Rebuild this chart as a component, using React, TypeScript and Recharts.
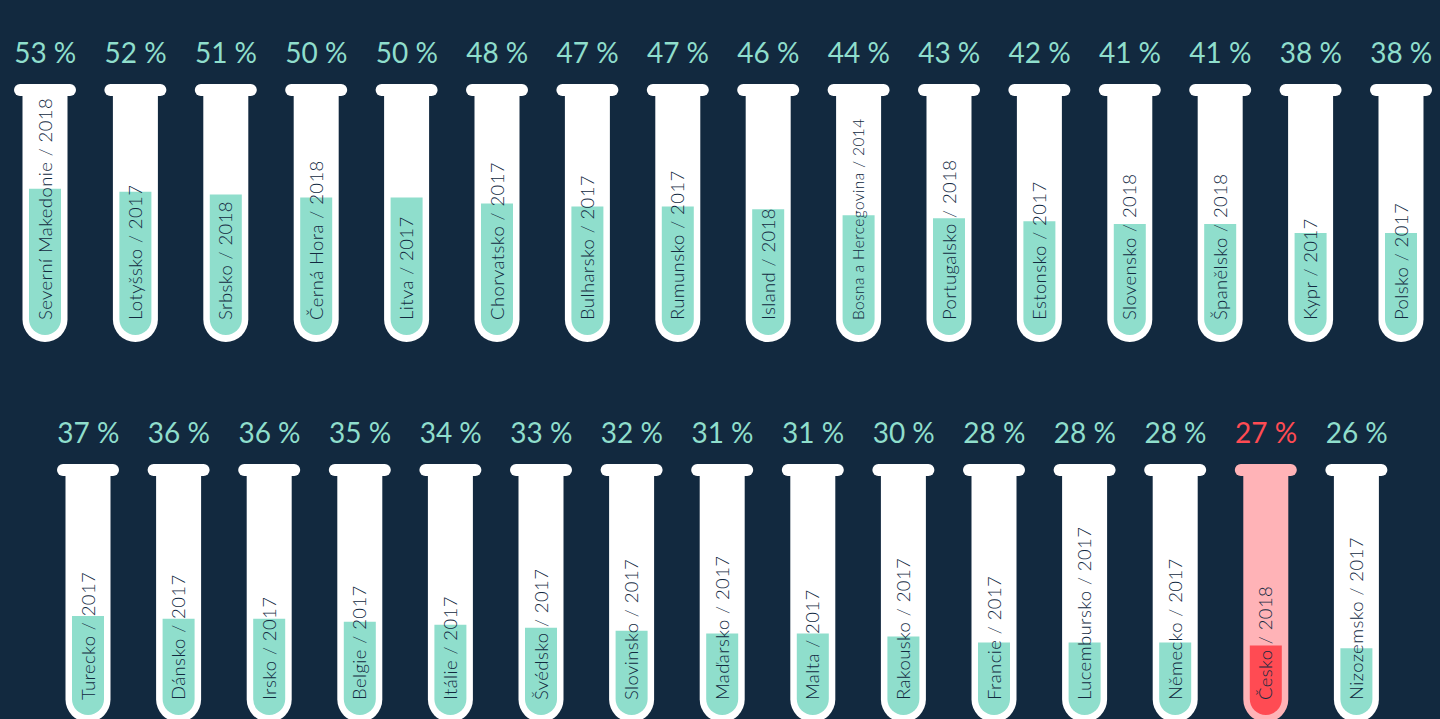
import React from 'react';
import { BarChart, Bar, XAxis, YAxis, LabelList } from 'recharts';

// horní řada zkumavek
const topCountries = [
    'Severní Makedonie', 'Lotyšsko', 'Srbsko', 'Černá Hora', 'Litva', 'Chorvatsko', 'Bulharsko', 'Rumunsko',
    'Island', 'Bosna a Hercegovina', 'Portugalsko', 'Estonsko', 'Slovensko', 'Španělsko', 'Kypr', 'Polsko',
];
const topYears = [2018, 2017, 2018, 2018, 2017, 2017, 2017, 2017, 2018, 2014, 2018, 2017, 2018, 2018, 2017, 2017];
const topValues = [53, 52, 51, 50, 50, 48, 47, 47, 46, 44, 43, 42, 41, 41, 38, 38];

// spodní řada
const bottomCountries = [
    'Turecko', 'Dánsko', 'Irsko', 'Belgie', 'Itálie', 'Švédsko', 'Slovinsko', 'Maďarsko',
    'Malta', 'Rakousko', 'Francie', 'Lucembursko', 'Německo', 'Česko', 'Nizozemsko',
];
const bottomYears = [2017, 2017, 2017, 2017, 2017, 2017, 2017, 2017, 2017, 2017, 2017, 2017, 2017, 2018, 2017];
const bottomValues = [37, 36, 36, 35, 34, 33, 32, 31, 31, 30, 28, 28, 28, 27, 26];

const HIGHLIGHT = 'Česko';

const BG = '#12293f';
const TEAL = '#8fdecc';
const RED = '#ff4b53';
const PINK = '#ffb3b7';
const FONT = 'Lato, "Open Sans", sans-serif';

const buildRows = (names: string[], years: number[], values: number[]) =>
    names.map((name, i) => ({
        name,
        label: `${name} / ${years[i]}`,
        value: values[i],
        hl: name === HIGHLIGHT,
    }));

const topRows = buildRows(topCountries, topYears, topValues);
const bottomRows = buildRows(bottomCountries, bottomYears, bottomValues);

const TubeRow = ({ rows, width }: any) => {
    const Tube = (p: any) => {
        const row = rows[p.index] || {};
        const cx = p.x + p.width / 2;
        const top = p.y;
        const bottom = p.y + p.height + 7;
        const r = 22.5;
        const color = row.hl ? PINK : '#ffffff';
        return (
            <g>
                <path
                    d={`M${cx - r},${top + 6} L${cx - r},${bottom - r} A${r},${r} 0 0 0 ${cx + r},${bottom - r} L${cx + r},${top + 6} Z`}
                    fill={color}
                />
                <rect x={cx - 31} y={top} width={62} height={12} rx={6} fill={color} />
            </g>
        );
    };

    const Fill = (p: any) => {
        const row = rows[p.index] || {};
        const { x, y, width: w, height: h } = p;
        const rr = w / 2;
        const b = y + h;
        return (
            <path
                d={`M${x},${y} L${x},${b - rr} A${rr},${rr} 0 0 0 ${x + w},${b - rr} L${x + w},${y} Z`}
                fill={row.hl ? RED : TEAL}
            />
        );
    };

    const PctTick = (p: any) => {
        const row = rows[p.index] || {};
        return (
            <text x={p.x} y={p.y - 21} textAnchor="middle" fontSize={28} fontWeight={400} fontFamily={FONT} fill={row.hl ? RED : TEAL}>
                {`${row.value} %`}
            </text>
        );
    };

    const NameLabel = (p: any) => {
        const cx = p.x + p.width / 2;
        const by = p.y + p.height - 15;
        const text = String(p.value);
        const fs = text.length > 25 ? 15.5 : 18.5;
        return (
            <text
                x={cx}
                y={by}
                transform={`rotate(-90 ${cx} ${by})`}
                textAnchor="start"
                dy="0.36em"
                fontSize={fs}
                fontWeight={300}
                letterSpacing={0.4}
                fontFamily={FONT}
                fill={BG}
            >
                {text}
            </text>
        );
    };

    return (
        <BarChart width={width} height={360} data={rows} margin={{ top: 44, right: 0, bottom: 25, left: 0 }}>
            <XAxis xAxisId="top" orientation="top" dataKey="label" height={40} axisLine={false} tickLine={false}
                tickSize={0} tickMargin={0} interval={0} tick={<PctTick />} />
            <XAxis xAxisId="bottom" dataKey="label" hide />
            <YAxis hide domain={[3.4, 88.5]} />
            <Bar xAxisId="bottom" dataKey="value" barSize={32} isAnimationActive={false}
                background={(p: any) => <Tube key={`bg-${p.index}`} {...p} />} shape={(p: any) => <Fill {...p} />}>
                <LabelList dataKey="label" content={(p: any) => <NameLabel {...p} />} />
            </Bar>
        </BarChart>
    );
};

export default function App() {
    return (
        <div style={{ position: 'fixed', inset: 0, background: BG, overflow: 'hidden' }}>
            <div style={{ position: 'absolute', top: 0, left: 0.3 }}>
                <TubeRow rows={topRows} width={1446.4} />
            </div>
            <div style={{ position: 'absolute', top: 380, left: 42.7 }}>
                <TubeRow rows={bottomRows} width={1359} />
            </div>
        </div>
    );
}
